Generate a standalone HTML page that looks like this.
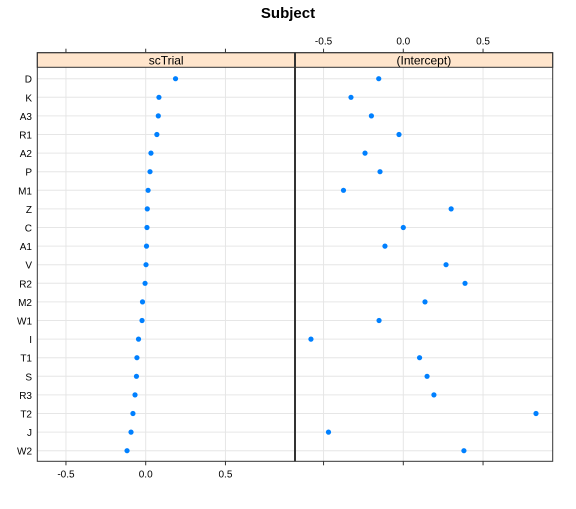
<!DOCTYPE html>
<html><head><meta charset="utf-8"><style>
body{margin:0;background:#fff}
svg{font-family:"Liberation Sans",sans-serif}
</style></head><body>
<svg id="c" width="576" height="504" xmlns="http://www.w3.org/2000/svg">
<text x="288" y="18" text-anchor="middle" font-size="15" font-weight="bold">Subject</text>
</svg>
<script>
const subjects=["D","K","A3","R1","A2","P","M1","Z","C","A1","V","R2","M2","W1","I","T1","S","R3","T2","J","W2"];
const scTrialValues=[0.187,0.083,0.079,0.07,0.033,0.027,0.015,0.01,0.008,0.005,0.002,-0.004,-0.02,-0.023,-0.045,-0.055,-0.058,-0.067,-0.08,-0.092,-0.117];
const interceptValues=[-0.154,-0.328,-0.2,-0.027,-0.24,-0.146,-0.375,0.3,0.0,-0.115,0.268,0.387,0.136,-0.152,-0.579,0.102,0.149,0.192,0.832,-0.469,0.38];
const tickValues=[-0.5,0,0.5];
const tickLabels=["-0.5","0.0","0.5"];
const panelNames=["scTrial","(Intercept)"];

const NS="http://www.w3.org/2000/svg";
const svg=document.getElementById('c');
function mk(t,a,p){const e=document.createElementNS(NS,t);for(const k in a)e.setAttribute(k,a[k]);(p||svg).appendChild(e);return e;}
const topY=52.7,stripB=67.3,bottomY=461.3;
const panels=[{x0:37.3,x1:295,zero:145.7},{x0:295,x1:552.7,zero:403.3}];
const scale=159.5;
const y0=78.7,dy=(450.7-78.7)/(subjects.length-1);
const yOf=i=>y0+i*dy;
const series=[scTrialValues,interceptValues];

subjects.forEach((s,i)=>{
  const t=mk('text',{x:32,y:yOf(i)+4,'text-anchor':'end','font-size':10});
  t.textContent=s;
  
  
});

panels.forEach((p,pi)=>{
  const xOf=v=>p.zero+v*scale;
  const g=mk('g',{});
  
  
  tickValues.forEach(v=>{const x=xOf(v);if(x>p.x0&&x<p.x1)mk('line',{x1:x,x2:x,y1:stripB,y2:bottomY,stroke:'#e6e6e6','stroke-width':1},g);});
  subjects.forEach((s,i)=>mk('line',{x1:p.x0,x2:p.x1,y1:yOf(i),y2:yOf(i),stroke:'#e6e6e6','stroke-width':1},g));
  const st=mk('rect',{x:p.x0,y:topY,width:p.x1-p.x0,height:stripB-topY,fill:'#ffe5cc',stroke:'#333','stroke-width':1},g);
  
  
  const tt=mk('text',{x:(p.x0+p.x1)/2,y:stripB-3,'text-anchor':'middle','font-size':12},g);
  tt.textContent=panelNames[pi];
  series[pi].forEach((v,i)=>{
    const c=mk('circle',{cx:xOf(v),cy:yOf(i),r:2.6,fill:'#0080ff'},g);
    
    
  });
  tickValues.forEach((v,k)=>{
    const x=xOf(v);
    mk('line',{x1:x,x2:x,y1:topY,y2:topY-4,stroke:'#333'},g);
    mk('line',{x1:x,x2:x,y1:bottomY,y2:bottomY+4,stroke:'#333'},g);
    if(pi===0){
      const t=mk('text',{x:x,y:bottomY+16,'text-anchor':'middle','font-size':10},g);
      t.textContent=tickLabels[k];
      
      
    } else {
      const t=mk('text',{x:x,y:topY-8,'text-anchor':'middle','font-size':10},g);
      t.textContent=tickLabels[k];
      
      
    }
  });
  mk('rect',{x:p.x0,y:topY,width:p.x1-p.x0,height:bottomY-topY,fill:'none',stroke:'#333','stroke-width':1},g);
});
mk('line',{x1:295,x2:295,y1:topY,y2:bottomY,stroke:'#333','stroke-width':2});
</script>
</body></html>
